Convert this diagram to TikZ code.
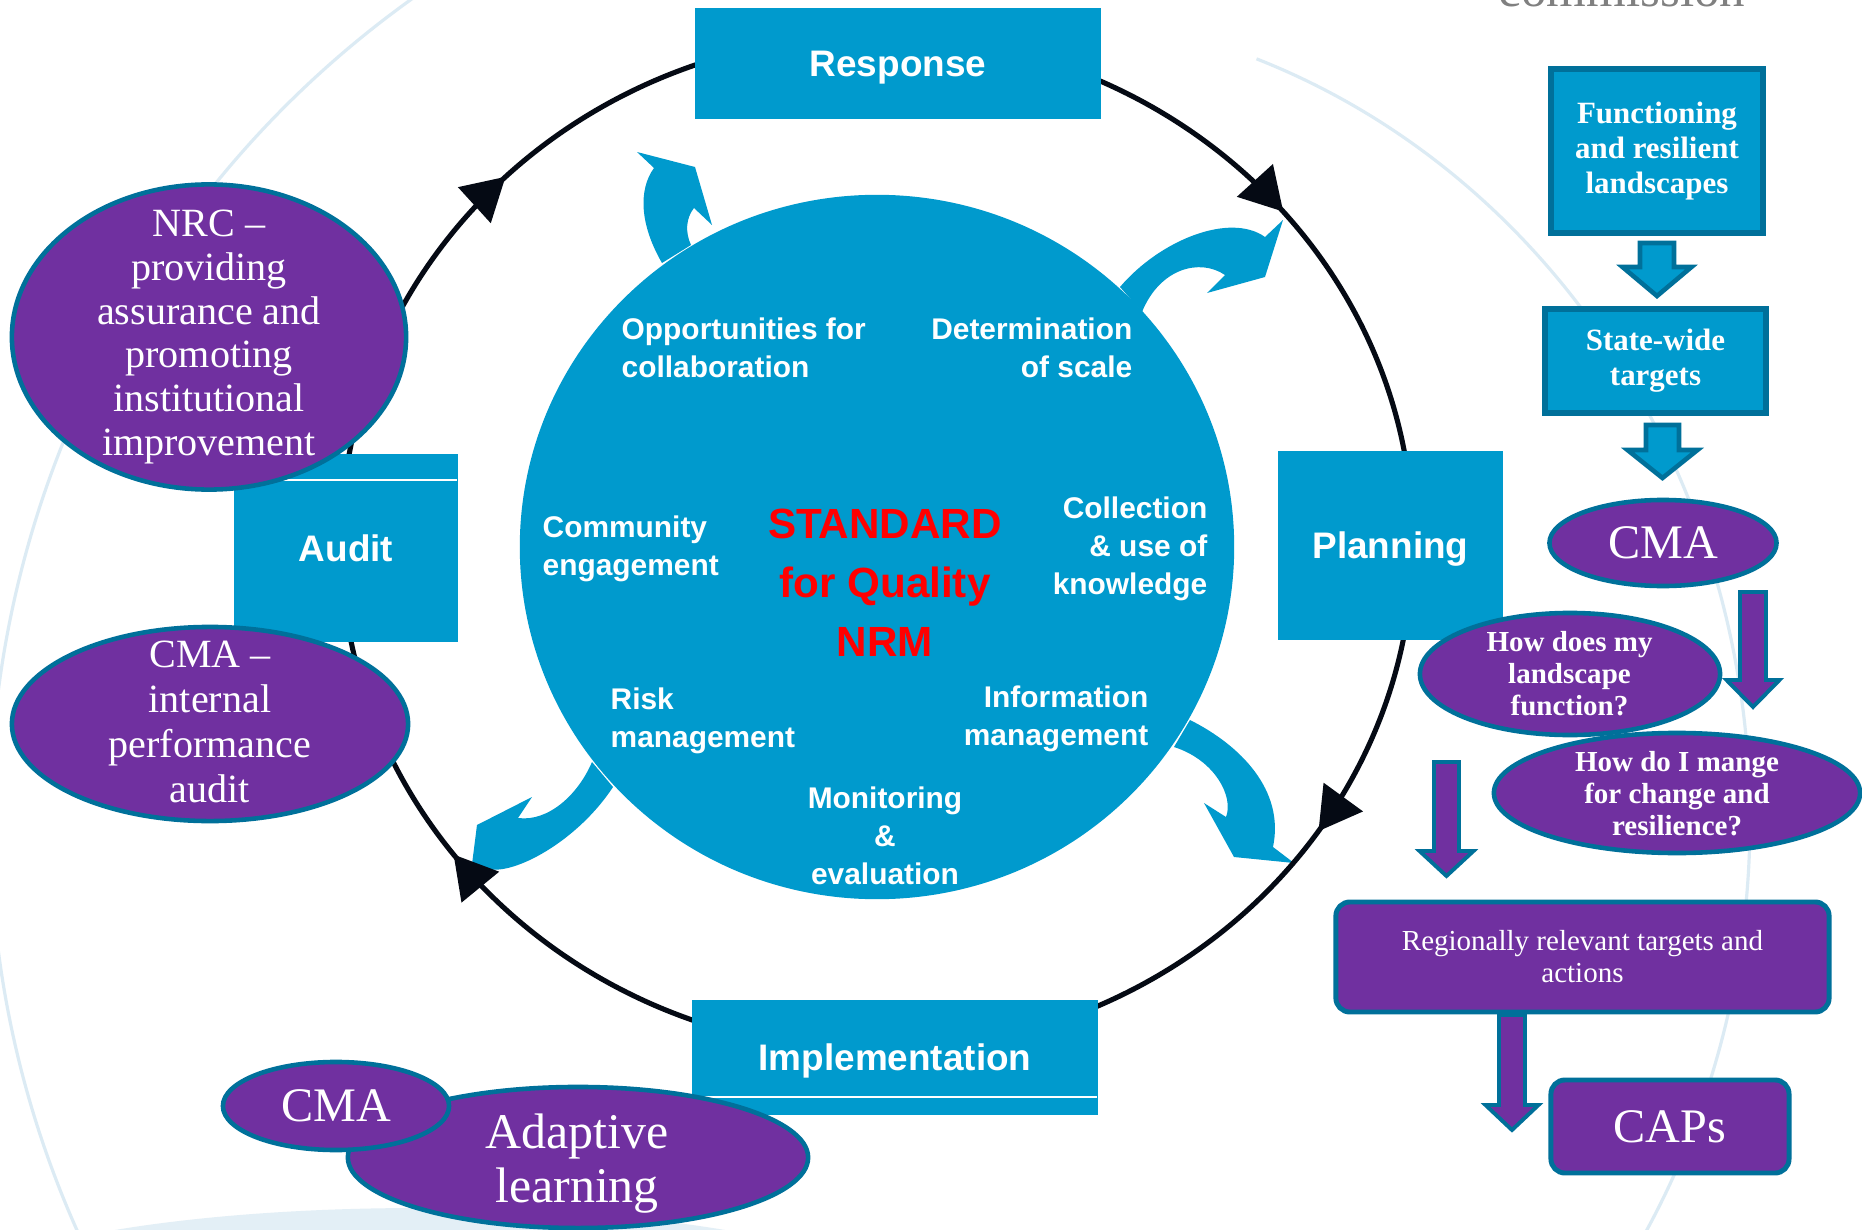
\documentclass[tikz,border=0pt]{standalone}
\usepackage{fontspec}
\setmainfont{Liberation Serif}
\setsansfont{Liberation Sans}
\usetikzlibrary{shapes.geometric,arrows.meta,decorations.markings,calc}
\definecolor{nrmblue}{HTML}{009ACD}
\definecolor{nrmpurple}{HTML}{7030A0}
\definecolor{rimteal}{HTML}{00709A}
\definecolor{cycleblack}{HTML}{050A14}
\definecolor{ringblue}{HTML}{DCEBF4}
\definecolor{commgrey}{HTML}{808080}

% block arrow pointing down: centre x, top, neck, tip, shaft half width, head half width
\newcommand{\dropshape}[6]{(#1-#5,#2) -- (#1+#5,#2) -- (#1+#5,#3) -- (#1+#6,#3) -- (#1,#4) -- (#1-#6,#3) -- (#1-#5,#3) -- cycle}

\begin{document}
\begin{tikzpicture}[
  x=0.01cm, y=-0.01cm,
  stagebox/.style={rectangle, fill=nrmblue, inner sep=0pt, text=white, text depth=0pt,
    font=\sffamily\bfseries\fontsize{10.5}{12}\selectfont},
  hubtext/.style={text=white, inner sep=0pt, font=\sffamily\bfseries\fontsize{8.5}{10.8}\selectfont},
  cycleline/.style={draw=cycleblack, color=cycleblack, line width=1.45pt},
  cycletip/.style={decoration={markings,
    mark=at position #1 with {\arrow{Triangle[length=12pt,width=13.5pt]}}}},
  seam/.style={draw=white, line width=0.5pt},
  purplering/.style={ellipse, fill=nrmpurple, draw=rimteal, line width=1.3pt, inner sep=0pt,
    text=white, text depth=0pt},
  ringtext/.style={text=white, inner sep=0pt, align=center},
  goalbox/.style={rectangle, fill=nrmblue, draw=rimteal, line width=1.6pt, inner sep=0pt,
    text=white, align=center, font=\bfseries\fontsize{8.8}{10}\selectfont},
  planbox/.style={rectangle, rounded corners=4pt, fill=nrmpurple, draw=rimteal, line width=1.4pt,
    inner sep=0pt, text=white, align=center},
  bluedrop/.style={fill=nrmblue, draw=rimteal, line width=1.3pt, line join=miter},
  purpledrop/.style={fill=nrmpurple, draw=rimteal, line width=1.1pt, line join=miter},
  backring/.style={draw=ringblue, line width=0.9pt}
]
\useasboundingbox (0,0) rectangle (1862,1230);
\fill[white] (0,0) rectangle (1862,1230);

% faint rings behind everything
\coordinate (ripple) at (1000,820);
\draw[backring] (ripple) ++(-70:750 and 810) arc [start angle=-70, end angle=40, x radius=750, y radius=810];
\draw[backring] (ripple) ++(150:1010) arc [start angle=150, end angle=236, radius=1010];
\fill[ringblue!80] (420,1300) ellipse [x radius=470, y radius=92];

\node[anchor=base, text=commgrey, inner sep=0pt, font=\fontsize{14.5}{16}\selectfont] (commission) at (1622,6) {commission};

% central disc with its four curved arrows
\node[ellipse, fill=nrmblue, minimum width=7.14cm, minimum height=7.04cm, inner sep=0pt] (core) at (877,547) {};
\fill[nrmblue] (662,263) .. controls (640,225) and (638,190) .. (654,168) -- (637,152) -- (695,167)
  -- (712,225) -- (694,208) .. controls (686,218) and (685,232) .. (691,245) -- cycle;
\fill[nrmblue] (1120,287) .. controls (1160,240) and (1230,212) .. (1265,237) -- (1283,220) -- (1265,277)
  -- (1207,293) -- (1225,275) .. controls (1200,258) and (1160,268) .. (1142,312) -- cycle;
\fill[nrmblue] (592,762) .. controls (578,795) and (548,822) .. (518,818) -- (532,797) -- (477,825)
  -- (470,880) -- (483,867) .. controls (505,880) and (575,845) .. (613,787) -- cycle;
\fill[nrmblue] (1190,720) .. controls (1240,745) and (1285,790) .. (1273,847) -- (1294,863) -- (1234,857)
  -- (1204,803) -- (1226,817) .. controls (1234,797) and (1215,760) .. (1174,747) -- cycle;

\node[hubtext, anchor=west, align=left] (collab) at (621,348) {Opportunities for\\collaboration};
\node[hubtext, anchor=east, align=right] (scale) at (1133,348) {Determination\\of scale};
\node[hubtext, anchor=west, align=left] (community) at (542,548.5) {Community\\engagement};
\node[hubtext, anchor=east, align=right] (knowledge) at (1208,548.5) {Collection\\\& use of\\knowledge};
\node[hubtext, anchor=west, align=left] (risk) at (610,721) {Risk\\management};
\node[hubtext, anchor=east, align=right] (info) at (1149,719) {Information\\management};
\node[hubtext, align=center] (monitoring) at (885,835.5) {Monitoring\\\&\\evaluation};
\node[text=red, inner sep=0pt, align=center, font=\sffamily\bfseries\fontsize{12}{16.8}\selectfont]
  (standard) at (885,582.5) {STANDARD\\for Quality\\NRM};

% the management cycle, running clockwise
\draw[cycleline, postaction={decorate, cycletip=0.094}, postaction={decorate, cycletip=0.397},
    postaction={decorate, cycletip=0.626}, postaction={decorate, cycletip=0.889}]
  (877,543) ellipse [x radius=536, y radius=508];

% stages on the cycle
\node[stagebox, minimum width=4.06cm, minimum height=1.11cm] (response) at (898,63.5) {Response};
\node[stagebox, minimum width=2.25cm, minimum height=1.89cm] (planning) at (1390.5,545.5) {Planning};
\node[stagebox, minimum width=2.24cm, minimum height=1.88cm] (audit) at (346,548) {Audit};
\node[stagebox, minimum width=4.06cm, minimum height=1.15cm] (implementation) at (895,1057.5) {Implementation};
\draw[seam] (audit.north west) ++(0,27) -- ++(224,0);
\draw[seam] (implementation.north west) ++(0,98) -- ++(406,0);

% who does what around the cycle
\node[purplering, minimum width=3.94cm, minimum height=3.05cm] (nrc) at (209,337) {};
\node[ringtext, font=\fontsize{11.4}{12.5}\selectfont] (nrctext) at (nrc) {NRC –\\providing\\assurance and\\promoting\\institutional\\improvement};
\node[purplering, minimum width=3.96cm, minimum height=1.94cm] (cmaaudit) at (210,724) {};
\node[ringtext, font=\fontsize{11.4}{12.8}\selectfont] (cmaaudittext) at (210,722) {CMA –\\internal\\performance\\audit};

\node[purplering, minimum width=4.6cm, minimum height=1.41cm] (adaptive) at (578,1157.5) {};
\node[ringtext, font=\fontsize{14.2}{15.4}\selectfont] (adaptivetext) at (577,1163.5) {Adaptive\\learning};
\node[purplering, minimum width=2.26cm, minimum height=0.88cm, font=\fontsize{13.7}{15}\selectfont] (cmaadapt) at (336,1106) {CMA};

% planning chain on the right
\node[goalbox, minimum width=2.12cm, minimum height=1.64cm] (landscapes) at (1657,151) {Functioning\\and resilient\\landscapes};
\node[goalbox, minimum width=2.21cm, minimum height=1.04cm] (targets) at (1655.5,361) {State-wide\\targets};
\draw[bluedrop] \dropshape{1657}{243}{267}{296}{17}{34.5};
\draw[bluedrop] \dropshape{1662.5}{425}{450}{478}{16.5}{35};

\node[purplering, minimum width=2.27cm, minimum height=0.86cm, font=\fontsize{13.7}{15}\selectfont] (cmaplan) at (1663,543) {CMA};
\draw[purpledrop] \dropshape{1753}{592}{680}{707}{13}{26.5};

\node[purplering, minimum width=3.0cm, minimum height=1.22cm] (function) at (1570,674) {};
\node[ringtext, font=\bfseries\fontsize{8.25}{9}\selectfont] (functiontext) at (1569.5,673.5) {How does my\\landscape\\function?};
\node[purplering, minimum width=3.66cm, minimum height=1.2cm] (change) at (1677,793) {};
\node[ringtext, font=\bfseries\fontsize{8.25}{9}\selectfont] (changetext) at (1677,793.5) {How do I mange\\for change and\\resilience?};
\draw[purpledrop] \dropshape{1446.5}{762}{851}{876}{12.5}{27};

\node[planbox, minimum width=4.93cm, minimum height=1.10cm, font=\fontsize{8.25}{9.1}\selectfont] (regional) at (1582.5,957) {Regionally relevant targets and\\actions};
\draw[purpledrop] \dropshape{1512}{1015}{1105}{1130}{13}{26.5};
\node[planbox, minimum width=2.38cm, minimum height=0.93cm, text depth=0pt, font=\fontsize{13.7}{15}\selectfont] (caps) at (1670,1126.5) {CAPs};

\end{tikzpicture}
\end{document}
